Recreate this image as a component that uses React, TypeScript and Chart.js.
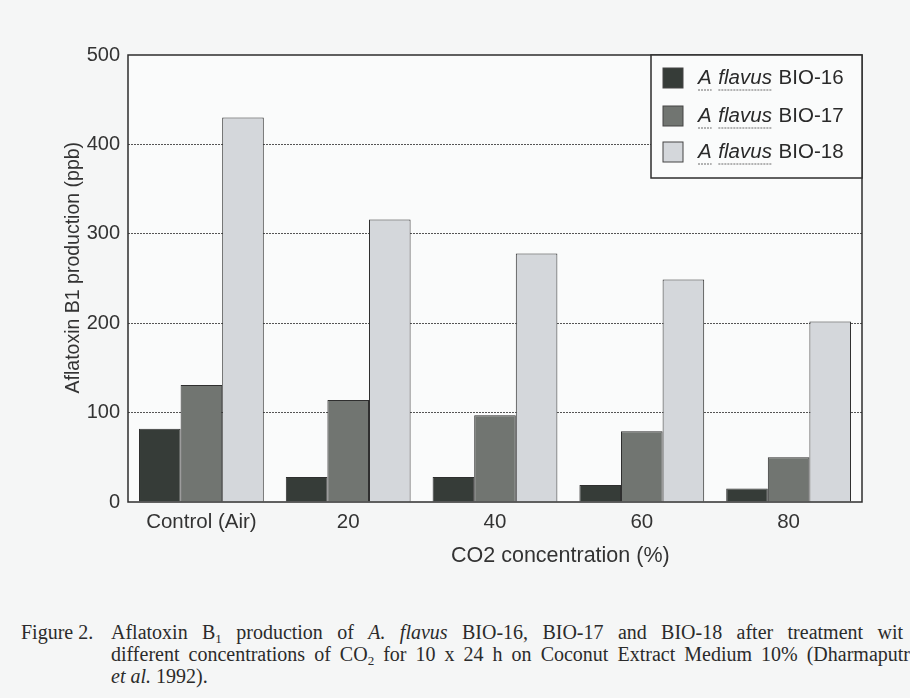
import React, { useEffect, useRef } from "react";
import { Chart, registerables } from "chart.js";

Chart.register(...registerables);

const categories = ["Control (Air)", "20", "40", "60", "80"];
const seriesNames = ["BIO-16", "BIO-17", "BIO-18"];
const bio16 = [82, 28, 28, 19, 15];
const bio17 = [131, 114, 97, 79, 50];
const bio18 = [430, 316, 278, 249, 202];
const yTicks = [0, 100, 200, 300, 400, 500];
const seriesColors = ["#363c38", "#717571", "#d4d7db"];
const xTitle = "CO2 concentration (%)";
const yTitle = "Aflatoxin B1 production (ppb)";

const FONT = "Arial, 'Liberation Sans', sans-serif";

const boxAndLegend = {
  id: "boxAndLegend",
  beforeDraw(chart: any) {
    const { ctx, chartArea: a } = chart;
    ctx.save();
    ctx.fillStyle = "#fafbfb";
    ctx.fillRect(a.left, a.top, a.right - a.left, a.bottom - a.top);
    ctx.restore();
  },
  afterDraw(chart: any) {
    const { ctx, chartArea: a } = chart;
    ctx.save();
    ctx.strokeStyle = "#2e2e2e";
    ctx.lineWidth = 1.5;
    ctx.strokeRect(a.left, a.top, a.right - a.left, a.bottom - a.top);
    // x-axis title (placed right of centre as in the original)
    ctx.fillStyle = "#333";
    ctx.font = `21.5px ${FONT}`;
    ctx.textAlign = "center";
    ctx.textBaseline = "middle";
    ctx.fillText(xTitle, a.left + (a.right - a.left) * 0.589, a.bottom + 54);
    ctx.textAlign = "left";
    // legend
    const w = 211, h = 123;
    const x0 = a.right - w, y0 = a.top;
    ctx.fillStyle = "#fafbfb";
    ctx.fillRect(x0, y0, w, h);
    ctx.strokeRect(x0, y0, w, h);
    const rows = [23, 61, 97];
    chart.data.datasets.forEach((ds: any, i: number) => {
      const cy = y0 + rows[i];
      ctx.fillStyle = ds.backgroundColor;
      ctx.fillRect(x0 + 12, cy - 10, 20, 20);
      ctx.lineWidth = 1;
      ctx.strokeStyle = "#444";
      ctx.strokeRect(x0 + 12, cy - 10, 20, 20);
      const tx = x0 + 47;
      ctx.textBaseline = "middle";
      ctx.fillStyle = "#2a2a2a";
      ctx.font = `italic 20.5px ${FONT}`;
      const wA = ctx.measureText("A").width;
      ctx.fillText("A", tx, cy);
      const sp = ctx.measureText(" ").width;
      const xFl = tx + wA + sp + 1;
      ctx.fillText("flavus", xFl, cy);
      const wFl = ctx.measureText("flavus").width;
      ctx.strokeStyle = "#6a6a6a";
      ctx.setLineDash([2, 1]);
      ctx.beginPath();
      ctx.moveTo(tx, cy + 12);
      ctx.lineTo(tx + wA, cy + 12);
      ctx.moveTo(xFl, cy + 12);
      ctx.lineTo(xFl + wFl, cy + 12);
      ctx.stroke();
      ctx.setLineDash([]);
      ctx.font = `20.5px ${FONT}`;
      ctx.fillText(" " + seriesNames[i], xFl + wFl + 1, cy);
    });
    ctx.restore();
  },
};

function ChartView() {
  const ref = useRef<HTMLCanvasElement>(null);
  useEffect(() => {
    if (!ref.current) return;
    const mk = (i: number, data: number[]) => ({
      label: "A flavus " + seriesNames[i],
      data,
      backgroundColor: seriesColors[i],
      borderColor: "#2f2f2f",
      borderWidth: 1,
      barPercentage: 1,
      categoryPercentage: 0.85,
    });
    const chart = new Chart(ref.current, {
      type: "bar",
      data: {
        labels: categories,
        datasets: [mk(0, bio16), mk(1, bio17), mk(2, bio18)],
      },
      plugins: [boxAndLegend],
      options: {
        animation: false,
        responsive: false,
        devicePixelRatio: 1,
        layout: { padding: { top: 55, right: 48, left: 0, bottom: 0 } },
        plugins: { legend: { display: false }, tooltip: { enabled: false } },
        scales: {
          x: {
            grid: { display: false, drawTicks: false },
            border: { display: false },
            ticks: { color: "#333", font: { family: FONT, size: 20.5 }, padding: 8, maxRotation: 0 },
            title: { display: false },
            afterFit: (s: any) => { s.height = 88; },
          },
          y: {
            min: 0,
            max: 500,
            afterBuildTicks: (s: any) => { s.ticks = yTicks.map((v) => ({ value: v })); },
            grid: {
              drawTicks: false,
              color: (c: any) => (c.tick && (c.tick.value === 0 || c.tick.value === 500) ? "rgba(0,0,0,0)" : "#555"),
              lineWidth: 1,
            },
            border: { display: false, dash: [2, 1] },
            ticks: { color: "#333", font: { family: FONT, size: 20 }, padding: 8 },
            title: {
              display: true,
              text: "    " + yTitle,
              color: "#333",
              font: { family: FONT, size: 19.5 },
              padding: { top: 62, bottom: 0 },
            },
            afterFit: (s: any) => { s.width = 128; },
          },
        },
      },
    } as any);
    return () => chart.destroy();
  }, []);
  return <canvas ref={ref} width={910} height={590} style={{ position: "absolute", left: 0, top: 0 }} />;
}

export default function App() {
  const cap: React.CSSProperties = {
    position: "absolute",
    fontFamily: "'Liberation Serif', 'Times New Roman', serif",
    fontSize: 20,
    color: "#2b2b2b",
    whiteSpace: "nowrap",
    lineHeight: "22px",
  };
  const just: React.CSSProperties = {
    ...cap,
    left: 111,
    whiteSpace: "normal",
    textAlign: "justify",
    textAlignLast: "justify" as any,
  };
  const sub: React.CSSProperties = { fontSize: 13, lineHeight: 0, verticalAlign: "-4px" };
  return (
    <div style={{ position: "fixed", inset: 0, background: "#f5f6f6", overflow: "hidden" }}>
      <ChartView />
      <div style={{ ...cap, left: 21, top: 621 }}>Figure 2.</div>
      <div style={{ ...just, top: 621, width: 792 }}>
        Aflatoxin B<span style={sub}>1</span> production of <i>A. flavus</i> BIO-16, BIO-17 and BIO-18 after treatment wit
      </div>
      <div style={{ ...just, top: 643, width: 799 }}>
        different concentrations of CO<span style={sub}>2</span> for 10 x 24 h on Coconut Extract Medium 10% (Dharmaputr
      </div>
      <div style={{ ...cap, left: 111, top: 665 }}>
        <i>et al.</i> 1992).
      </div>
    </div>
  );
}
